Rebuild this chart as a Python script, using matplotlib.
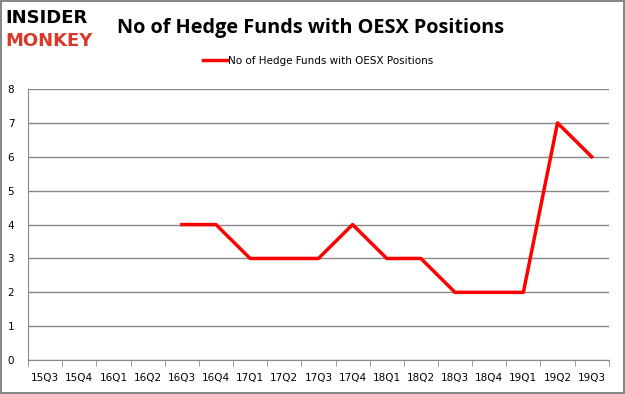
import matplotlib.pyplot as plt
import numpy as np

quarters = ['15Q3', '15Q4', '16Q1', '16Q2', '16Q3', '16Q4', '17Q1', '17Q2', '17Q3',
            '17Q4', '18Q1', '18Q2', '18Q3', '18Q4', '19Q1', '19Q2', '19Q3']
funds = [np.nan, np.nan, np.nan, np.nan, 4, 4, 3, 3, 3, 4, 3, 3, 2, 2, 2, 7, 6]
series_name = 'No of Hedge Funds with OESX Positions'

fig = plt.figure(figsize=(6.25, 3.94), dpi=100)
fig.patch.set_edgecolor('#888888')
fig.patch.set_linewidth(1.5)
ax = fig.add_axes([0.045, 0.086, 0.929, 0.688])

x = np.arange(len(quarters))
ax.plot(x, funds, color='#ff0000', linewidth=2.5, label=series_name)

ax.set_xlim(-0.5, len(quarters) - 0.5)
ax.set_ylim(0, 8)
ax.set_yticks(range(0, 9))
ax.set_xticks(x)
ax.set_xticklabels(quarters, fontsize=7.5, family='DejaVu Sans')
ax.set_xticks(np.arange(-0.5, len(quarters)), minor=True)
ax.tick_params(axis='x', which='major', length=0, pad=9)
ax.tick_params(axis='x', which='minor', length=4, color='#888888')
ax.tick_params(axis='y', length=0, labelsize=7.5, pad=10)
ax.grid(axis='y', color='#888888', linewidth=1)
ax.set_axisbelow(True)
for s in ['top', 'right']:
    ax.spines[s].set_visible(False)
for s in ['left', 'bottom']:
    ax.spines[s].set_color('#888888')

# title and legend
fig.text(0.187, 0.93, series_name, fontsize=14.3, fontweight='bold',
         family='Open Sans', va='center', ha='left')
ax.legend(loc='center', bbox_to_anchor=(0.5, 1.103), frameon=False,
          fontsize=7.5, handlelength=2.3, handletextpad=0.1)

# logo
fig.text(0.008, 0.955, 'INSIDER', fontsize=13, fontweight='heavy', color='black',
         family='DejaVu Sans', va='center', ha='left')
fig.text(0.008, 0.895, 'MONKEY', fontsize=13, fontweight='heavy', color='#d9382a',
         family='DejaVu Sans', va='center', ha='left')

fig.savefig('out.png', dpi=100, edgecolor=fig.get_edgecolor())
